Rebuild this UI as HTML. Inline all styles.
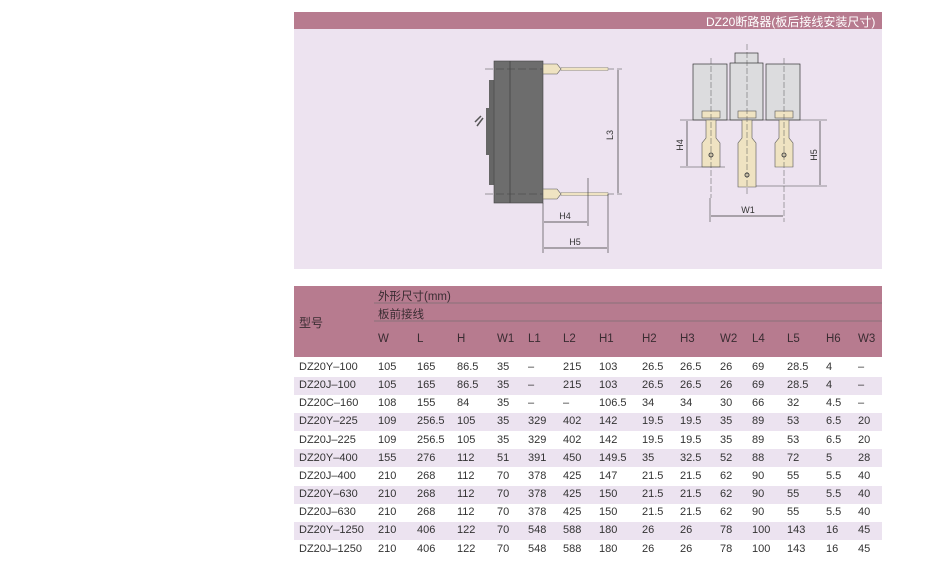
<!DOCTYPE html>
<html><head><meta charset="utf-8"><style>
body{margin:0;width:950px;height:569px;background:#fff;position:relative;font-family:"Liberation Sans","Noto Sans CJK SC",sans-serif;overflow:hidden}
.t{position:absolute;font-size:11px;color:#333;white-space:nowrap}
.h{color:#3a2c32;font-size:11.5px}
</style></head><body>
<svg width="950" height="569" style="position:absolute;left:0;top:0">
<rect x="294" y="12" width="588" height="17" fill="#b77b8f"/>
<rect x="294" y="29" width="588" height="240" fill="#ede3f0"/>
<rect x="489" y="80" width="6" height="105" fill="#666" />
<rect x="486" y="108" width="5" height="47" fill="#666"/>
<path d="M475 122 l6 -6 M477 126 l6 -8" stroke="#555" stroke-width="1.5"/>
<rect x="494" y="61" width="49" height="142" fill="#6d6d6d" stroke="#444" stroke-width="0.6"/>
<line x1="510" y1="61" x2="510" y2="203" stroke="#444" stroke-width="0.8"/>
<line x1="485" y1="69" x2="622" y2="69" stroke="#444" stroke-width="0.5" stroke-dasharray="8,3"/>
<line x1="485" y1="194" x2="622" y2="194" stroke="#444" stroke-width="0.5" stroke-dasharray="8,3"/>
<path d="M543 64 h14 l4 5 l-4 5 h-14z" fill="#efe3c2" stroke="#555" stroke-width="0.6"/>
<path d="M543 189 h14 l4 5 l-4 5 h-14z" fill="#efe3c2" stroke="#555" stroke-width="0.6"/>
<rect x="561" y="67.5" width="47" height="3" fill="#efe3c2" stroke="#777" stroke-width="0.4"/>
<rect x="561" y="192.5" width="47" height="3" fill="#efe3c2" stroke="#777" stroke-width="0.4"/>
<line x1="618" y1="70" x2="618" y2="193" stroke="#333" stroke-width="0.7"/>
<line x1="543" y1="203" x2="543" y2="253" stroke="#333" stroke-width="0.6"/>
<line x1="588" y1="178" x2="588" y2="226" stroke="#333" stroke-width="0.6"/>
<line x1="608" y1="194" x2="608" y2="253" stroke="#333" stroke-width="0.6"/>
<line x1="544" y1="222" x2="587" y2="222" stroke="#333" stroke-width="0.7"/>
<line x1="544" y1="248" x2="607" y2="248" stroke="#333" stroke-width="0.7"/>
<text x="613" y="135" font-size="9" fill="#333" transform="rotate(-90 613 135)" text-anchor="middle" font-family="Liberation Sans">L3</text>
<text x="565" y="219" font-size="9" fill="#333" text-anchor="middle" font-family="Liberation Sans">H4</text>
<text x="575" y="245" font-size="9" fill="#333" text-anchor="middle" font-family="Liberation Sans">H5</text>
<rect x="735" y="53" width="23" height="11" fill="#dcdcde" stroke="#333" stroke-width="0.7"/>
<rect x="693" y="64" width="34" height="56" fill="#dcdcde" stroke="#333" stroke-width="0.7"/>
<rect x="730" y="63" width="33" height="57" fill="#dcdcde" stroke="#333" stroke-width="0.7"/>
<rect x="766" y="64" width="34" height="56" fill="#dcdcde" stroke="#333" stroke-width="0.7"/>
<line x1="680" y1="120" x2="827" y2="120" stroke="#444" stroke-width="0.6"/>
<rect x="702" y="111" width="18" height="7" fill="#efe3c2" stroke="#555" stroke-width="0.6"/>
<rect x="738" y="111" width="18" height="7" fill="#efe3c2" stroke="#555" stroke-width="0.6"/>
<rect x="775" y="111" width="18" height="7" fill="#efe3c2" stroke="#555" stroke-width="0.6"/>
<path d="M706 120 h10 v18 l4 5 v24 h-18 v-24 l4 -5z" fill="#efe3c2" stroke="#555" stroke-width="0.6"/>
<path d="M742 120 h10 v18 l4 5 v44 h-18 v-44 l4 -5z" fill="#efe3c2" stroke="#555" stroke-width="0.6"/>
<path d="M779 120 h10 v18 l4 5 v24 h-18 v-24 l4 -5z" fill="#efe3c2" stroke="#555" stroke-width="0.6"/>
<g stroke="#555" stroke-width="0.5" stroke-dasharray="6,2">
<line x1="711" y1="58" x2="711" y2="198"/><line x1="747" y1="44" x2="747" y2="195"/><line x1="784" y1="58" x2="784" y2="222"/>
</g>
<line x1="710" y1="198" x2="710" y2="222" stroke="#444" stroke-width="0.6"/>
<circle cx="711" cy="155" r="2" fill="none" stroke="#444"/><circle cx="747" cy="175" r="2" fill="none" stroke="#444"/><circle cx="784" cy="155" r="2" fill="none" stroke="#444"/>
<line x1="680" y1="167" x2="725" y2="167" stroke="#444" stroke-width="0.6"/>
<line x1="756" y1="186" x2="827" y2="186" stroke="#444" stroke-width="0.6"/>
<line x1="687" y1="121" x2="687" y2="166" stroke="#333" stroke-width="0.7"/>
<line x1="820" y1="121" x2="820" y2="185" stroke="#333" stroke-width="0.7"/>
<line x1="711" y1="216" x2="783" y2="216" stroke="#333" stroke-width="0.7"/>
<text x="683" y="145" font-size="9" fill="#333" transform="rotate(-90 683 145)" text-anchor="middle" font-family="Liberation Sans">H4</text>
<text x="817" y="155" font-size="9" fill="#333" transform="rotate(-90 817 155)" text-anchor="middle" font-family="Liberation Sans">H5</text>
<text x="748" y="213" font-size="9" fill="#333" text-anchor="middle" font-family="Liberation Sans">W1</text>
<rect x="294" y="286" width="588" height="71" fill="#b77b8f"/>
<line x1="374" y1="303" x2="882" y2="303" stroke="#8a7078" stroke-width="1"/>
<line x1="374" y1="321" x2="882" y2="321" stroke="#8a7078" stroke-width="1"/>
<g fill="#ece3f0">
<rect x="294" y="377" width="588" height="18"/><rect x="294" y="413" width="588" height="18"/><rect x="294" y="449" width="588" height="18"/><rect x="294" y="486" width="588" height="18"/><rect x="294" y="522" width="588" height="18"/>
</g>
</svg>
<div class="t" style="left:706px;top:13px;font-size:12px;color:#fff">DZ20断路器(板后接线安装尺寸)</div>
<div class="t h" style="left:299px;top:314px;font-size:12px">型号</div>
<div class="t h" style="left:378px;top:288px">外形尺寸(mm)</div>
<div class="t h" style="left:378px;top:306px">板前接线</div>
<div id="hdr"></div>
<div id="rows"></div>
<script>
var xs=[378,417,457,497,528,563,599,642,680,720,752,787,826,858];
var hd=["W","L","H","W1","L1","L2","H1","H2","H3","W2","L4","L5","H6","W3"];
var h="";hd.forEach(function(s,i){h+='<div class="t h" style="left:'+xs[i]+'px;top:333px">'+s+'</div>'});
document.getElementById("hdr").innerHTML=h;
var d=[
["DZ20Y–100","105","165","86.5","35","–","215","103","26.5","26.5","26","69","28.5","4","–"],
["DZ20J–100","105","165","86.5","35","–","215","103","26.5","26.5","26","69","28.5","4","–"],
["DZ20C–160","108","155","84","35","–","–","106.5","34","34","30","66","32","4.5","–"],
["DZ20Y–225","109","256.5","105","35","329","402","142","19.5","19.5","35","89","53","6.5","20"],
["DZ20J–225","109","256.5","105","35","329","402","142","19.5","19.5","35","89","53","6.5","20"],
["DZ20Y–400","155","276","112","51","391","450","149.5","35","32.5","52","88","72","5","28"],
["DZ20J–400","210","268","112","70","378","425","147","21.5","21.5","62","90","55","5.5","40"],
["DZ20Y–630","210","268","112","70","378","425","150","21.5","21.5","62","90","55","5.5","40"],
["DZ20J–630","210","268","112","70","378","425","150","21.5","21.5","62","90","55","5.5","40"],
["DZ20Y–1250","210","406","122","70","548","588","180","26","26","78","100","143","16","45"],
["DZ20J–1250","210","406","122","70","548","588","180","26","26","78","100","143","16","45"]];
var r="";d.forEach(function(row,j){var y=361+j*18.15;r+='<div class="t" style="left:299px;top:'+y+'px">'+row[0]+'</div>';for(var i=1;i<row.length;i++)r+='<div class="t" style="left:'+xs[i-1]+'px;top:'+y+'px">'+row[i]+'</div>';});
document.getElementById("rows").innerHTML=r;
</script>
</body></html>
